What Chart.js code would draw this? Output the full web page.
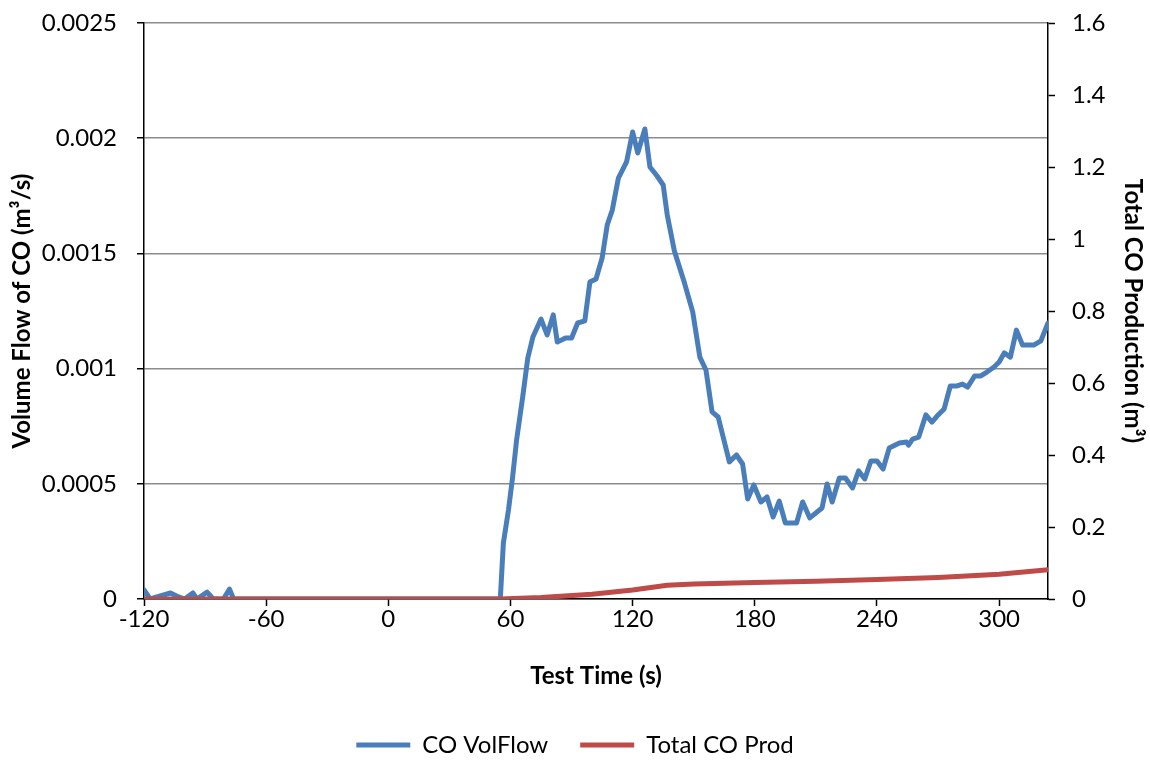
<!DOCTYPE html>
<html>
<head>
<meta charset="utf-8">
<script src="https://cdn.jsdelivr.net/npm/chart.js@4.4.1/dist/chart.umd.min.js"></script>
<style>
  html, body { margin: 0; padding: 0; background: #fff; }
</style>
</head>
<body>
<canvas id="chart" width="1150" height="760"></canvas>
<script>
// test time (s) for the CO volume flow trace
const timeBlue = [-120, -117, -112, -107, -104, -100, -96, -94, -89, -86, -81, -78, -76,
  55, 56.5, 59, 61, 63, 66, 68.5, 71, 75, 78, 81, 83, 87, 90, 93, 96.5,
  99, 102, 105, 107.5, 110, 113, 117, 120, 122.5, 126, 128.5, 132, 135, 137, 140.5, 145.5,
  149.5, 153, 156, 159, 162, 167.5, 171, 174, 176.5, 179.5, 183, 186, 189, 192, 195, 200.5,
  203.5, 207, 213, 215.5, 218, 221.5, 224.5, 228, 231, 234, 237, 240, 243, 246, 251, 254.5,
  255.5, 257.5, 260.5, 264, 267, 269.5, 273, 276, 279, 282, 284.5, 288, 291, 294, 297.5, 300,
  302.5, 305.5, 308.5, 311.5, 317, 320.5, 324];
// CO VolFlow (m3/s)
const coVolFlow = [0.00004, 0, 0.000013, 0.000026, 0.000013, 0, 0.000026, 0, 0.00003, 0, 0, 0.000043, 0,
  0, 0.000243, 0.000386, 0.000525, 0.00069, 0.000877, 0.001046, 0.001137, 0.001215, 0.001146, 0.001233, 0.001115, 0.001133, 0.001133, 0.001198, 0.001207,
  0.001376, 0.001389, 0.00148, 0.001623, 0.001688, 0.001827, 0.001897, 0.002027, 0.001936, 0.00204, 0.001875, 0.001836, 0.001797, 0.001667, 0.00151, 0.00137,
  0.001246, 0.00105, 0.000994, 0.000812, 0.00079, 0.000595, 0.000625, 0.000586, 0.000434, 0.000495, 0.000421, 0.000443, 0.000356, 0.000425, 0.00033, 0.00033,
  0.000421, 0.000352, 0.000395, 0.000499, 0.000421, 0.000525, 0.000525, 0.000482, 0.000556, 0.000521, 0.000599, 0.000599, 0.000564, 0.000655, 0.000677, 0.000681,
  0.000668, 0.000694, 0.000703, 0.000799, 0.000768, 0.000794, 0.000825, 0.000924, 0.000924, 0.000933, 0.00092, 0.000968, 0.000968, 0.000985, 0.001007, 0.001029,
  0.001068, 0.00105, 0.001167, 0.001102, 0.001102, 0.00112, 0.001198];

// total CO production (m3)
const timeRed = [-120, 55, 75, 100, 120, 137, 150, 180, 210, 240, 270, 300, 324];
const totalCOProd = [0, 0, 0.004, 0.013, 0.025, 0.038, 0.042, 0.046, 0.049, 0.054, 0.06, 0.069, 0.081];

const xTicks = [-120, -60, 0, 60, 120, 180, 240, 300];

const fontFam = 'Lato, "Open Sans", sans-serif';
Chart.defaults.font.family = fontFam;
Chart.defaults.color = '#000';

// keep the plot box where the reference has it
function noEdgePad(s) {
    s.paddingTop = 0;
    s.paddingBottom = 0;
}

const ctx = document.getElementById('chart').getContext('2d');

new Chart(ctx, {
    type: 'line',
    data: {
        datasets: [
            {
                label: 'CO VolFlow',
                data: timeBlue.map((t, i) => ({x: t, y: coVolFlow[i]})),
                borderColor: '#4a7ebb',
                backgroundColor: '#4a7ebb',
                borderWidth: 5,
                borderCapStyle: 'round',
                borderJoinStyle: 'round',
                pointRadius: 0,
                tension: 0,
                yAxisID: 'y',
                order: 1
            },
            {
                label: 'Total CO Prod',
                data: timeRed.map((t, i) => ({x: t, y: totalCOProd[i]})),
                borderColor: '#be4b48',
                backgroundColor: '#be4b48',
                borderWidth: 5,
                borderCapStyle: 'round',
                borderJoinStyle: 'round',
                pointRadius: 0,
                tension: 0,
                yAxisID: 'y2',
                order: 0
            }
        ]
    },
    options: {
        responsive: false,
        animation: false,
        layout: { padding: { top: 23, left: 0, right: 0, bottom: -7 } },
        plugins: {
            legend: {
                position: 'bottom',
                labels: {
                    usePointStyle: true,
                    pointStyle: 'line',
                    pointStyleWidth: 54,
                    padding: 32,
                    color: '#000',
                    font: { size: 24 },
                    sort: (a, b) => a.datasetIndex - b.datasetIndex
                }
            },
            tooltip: { enabled: false }
        },
        scales: {
            x: {
                type: 'linear',
                min: -120,
                max: 324,
                afterBuildTicks: s => { s.ticks = xTicks.map(v => ({value: v})); },
                afterFit: s => { s.height = 102; s.paddingLeft = 0; s.paddingRight = 0; },
                grid: { drawOnChartArea: false, tickLength: 7, color: '#000', tickWidth: 1.5 },
                border: { color: '#000', width: 1.5 },
                ticks: { color: '#000', font: { size: 24 }, padding: -1, maxRotation: 0 },
                title: {
                    display: true, text: 'Test Time (s)', color: '#000',
                    font: { size: 24, weight: 'bold' }, padding: { top: 0, bottom: 10 }
                }
            },
            y: {
                position: 'left',
                min: 0,
                max: 0.0025,
                afterFit: s => { s.width = 144; noEdgePad(s); },
                grid: { color: '#8c8c8c', lineWidth: 1.5, tickLength: 7, tickColor: '#000' },
                border: { color: '#000', width: 1.5 },
                ticks: {
                    stepSize: 0.0005, color: '#000', font: { size: 24 }, padding: 20,
                    callback: v => String(+v.toFixed(4))
                },
                title: {
                    display: true, text: 'Volume Flow of CO (m³/s)', color: '#000',
                    font: { size: 24, weight: 'bold' }, padding: { top: 8, bottom: 0 }
                }
            },
            y2: {
                position: 'right',
                min: 0,
                max: 1.6,
                afterFit: s => { s.width = 102; noEdgePad(s); },
                grid: { drawOnChartArea: false, tickLength: 7, color: '#000', tickWidth: 1.5 },
                border: { color: '#000', width: 1.5 },
                ticks: {
                    stepSize: 0.2, color: '#000', font: { size: 24 }, padding: 17,
                    callback: v => String(+v.toFixed(1))
                },
                title: {
                    display: true, text: 'Total CO Production (m³)', color: '#000',
                    font: { size: 24, weight: 'bold' }, padding: { top: 3, bottom: 0 }
                }
            }
        }
    }
});
</script>
</body>
</html>
